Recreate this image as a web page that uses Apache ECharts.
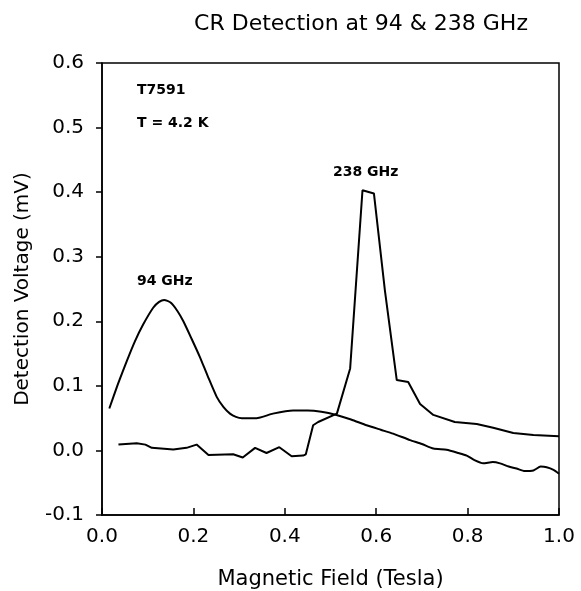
<!DOCTYPE html>
<html>
<head>
<meta charset="utf-8">
<script src="https://cdn.jsdelivr.net/npm/echarts@6/dist/echarts.min.js"></script>
<style>
  html, body { margin: 0; padding: 0; background: #fff; }
  #chart { width: 581px; height: 591px; }
</style>
</head>
<body>
<div id="chart"></div>
<script>
// 94 GHz curve (smooth)
var fieldA = [0.016, 0.035, 0.054, 0.072, 0.09, 0.112, 0.125, 0.136, 0.15, 0.165, 0.178, 0.196, 0.214, 0.232, 0.251, 0.266, 0.28, 0.293, 0.306, 0.338, 0.374, 0.418, 0.45, 0.48, 0.513, 0.545, 0.579, 0.61, 0.637, 0.674, 0.70, 0.725, 0.754, 0.78, 0.798, 0.815, 0.834, 0.855, 0.871, 0.89, 0.907, 0.925, 0.944, 0.96, 0.973, 0.988, 1.0];
var voltA = [0.065, 0.103, 0.138, 0.169, 0.195, 0.221, 0.23, 0.233, 0.229, 0.216, 0.2, 0.173, 0.145, 0.114, 0.083, 0.067, 0.057, 0.052, 0.05, 0.05, 0.057, 0.062, 0.062, 0.06, 0.055, 0.048, 0.039, 0.032, 0.026, 0.016, 0.01, 0.003, 0.001, -0.004, -0.008, -0.015, -0.02, -0.018, -0.02, -0.025, -0.028, -0.032, -0.031, -0.025, -0.026, -0.03, -0.036];

// 238 GHz curve (sharp peak)
var fieldB = [0.036, 0.076, 0.095, 0.109, 0.156, 0.185, 0.207, 0.233, 0.287, 0.308, 0.335, 0.36, 0.388, 0.415, 0.44, 0.446, 0.462, 0.473, 0.514, 0.543, 0.570, 0.595, 0.619, 0.645, 0.67, 0.696, 0.725, 0.772, 0.82, 0.856, 0.9, 0.944, 1.0];
var voltB = [0.009, 0.011, 0.009, 0.004, 0.0015, 0.004, 0.009, -0.007, -0.006, -0.011, 0.004, -0.004, 0.005, -0.009, -0.008, -0.006, 0.039, 0.044, 0.057, 0.127, 0.403, 0.398, 0.248, 0.109, 0.106, 0.072, 0.055, 0.044, 0.041, 0.035, 0.027, 0.024, 0.022];

var xTicks = [0, 0.2, 0.4, 0.6, 0.8, 1.0];
var yTicks = [-0.1, 0, 0.1, 0.2, 0.3, 0.4, 0.5, 0.6];

function pairs(xs, ys) {
  var out = [];
  for (var i = 0; i < xs.length; i++) out.push([xs[i], ys[i]]);
  return out;
}

var font = 'DejaVu Sans';
var chart = echarts.init(document.getElementById('chart'));

chart.setOption({
  animation: false,
  backgroundColor: '#fff',
  title: {
    text: 'CR Detection at 94 & 238 GHz',
    left: 356,
    top: 8,
    textAlign: 'center',
    textStyle: { fontFamily: font, fontSize: 22, fontWeight: 'normal', color: '#000' }
  },
  grid: {
    left: 102, right: 22, top: 63, bottom: 76,
    outerBoundsMode: 'none',
    containLabel: false,
    show: true, borderColor: '#000', borderWidth: 1.5, backgroundColor: 'transparent'
  },
  xAxis: {
    type: 'value',
    min: xTicks[0],
    max: xTicks[xTicks.length - 1],
    interval: 0.2,
    name: 'Magnetic Field (Tesla)',
    nameLocation: 'middle',
    nameGap: 54,
    nameTextStyle: { fontFamily: font, fontSize: 21, color: '#000' },
    axisLine: { show: true, onZero: false, lineStyle: { color: '#000', width: 1.5 } },
    axisTick: { show: true, inside: true, length: 7, lineStyle: { color: '#000', width: 1.5 } },
    axisLabel: {
      margin: 12, fontFamily: font, fontSize: 20, color: '#000',
      formatter: function (v) { return v.toFixed(1); }
    },
    splitLine: { show: false }
  },
  yAxis: {
    type: 'value',
    min: yTicks[0],
    max: yTicks[yTicks.length - 1],
    interval: 0.1,
    name: 'Detection Voltage (mV)',
    nameLocation: 'middle',
    nameGap: 69,
    nameTextStyle: { fontFamily: font, fontSize: 20, color: '#000' },
    axisLine: { show: true, onZero: false, lineStyle: { color: '#000', width: 1.5 } },
    axisTick: { show: true, inside: false, length: 6, lineStyle: { color: '#000', width: 1.5 } },
    axisLabel: {
      margin: 18, fontFamily: font, fontSize: 20, color: '#000',
      formatter: function (v) { return v.toFixed(1); }
    },
    splitLine: { show: false }
  },
  graphic: [
    { type: 'text', left: 137, top: 83, style: { text: 'T7591', font: 'bold 14px "DejaVu Sans"', fill: '#000' } },
    { type: 'text', left: 137, top: 116, style: { text: 'T = 4.2 K', font: 'bold 14px "DejaVu Sans"', fill: '#000' } },
    { type: 'text', left: 137, top: 274, style: { text: '94 GHz', font: 'bold 14px "DejaVu Sans"', fill: '#000' } },
    { type: 'text', left: 333, top: 165, style: { text: '238 GHz', font: 'bold 14px "DejaVu Sans"', fill: '#000' } }
  ],
  series: [{
    name: '94 GHz',
    type: 'line',
    data: pairs(fieldA, voltA),
    smooth: 0.2,
    showSymbol: false,
    lineStyle: { color: '#000', width: 2 }
  }, {
    name: '238 GHz',
    type: 'line',
    data: pairs(fieldB, voltB),
    showSymbol: false,
    lineStyle: { color: '#000', width: 2 }
  }]
});
</script>
</body>
</html>
